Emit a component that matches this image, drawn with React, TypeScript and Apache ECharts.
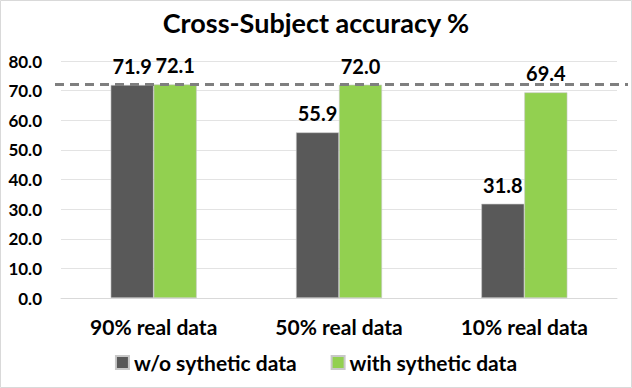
import React, { useEffect, useRef } from "react";
import * as echarts from "echarts";

const categories = ["90% real data", "50% real data", "10% real data"];
const withoutSynthetic = [71.9, 55.9, 31.8];
const withSynthetic = [72.1, 72.0, 69.4];
const referenceLine = 72.1;
const seriesNames = ["w/o sythetic data", "with sythetic data"];
const titleText = "Cross-Subject accuracy %";

const FONT = "Lato, 'Open Sans', sans-serif";

export default function App() {
  const ref = useRef<HTMLDivElement>(null);
  useEffect(() => {
    if (!ref.current) return;
    const chart = echarts.init(ref.current, null, { renderer: "svg" });
    const labelStyle = {
      show: true,
      position: "top" as const,
      distance: 9,
      fontFamily: FONT,
      fontWeight: "bold" as const,
      fontSize: 20,
      color: "#000",
      formatter: (p: any) => Number(p.value).toFixed(1),
    };
    chart.setOption({
      animation: false,
      backgroundColor: "#fff",
      title: {
        text: titleText,
        left: "center",
        top: 4,
        textStyle: { fontFamily: FONT, fontWeight: "bold", fontSize: 27, color: "#000" },
      },
      legend: {
        bottom: 10,
        left: "center",
        itemWidth: 13,
        itemHeight: 13,
        itemGap: 34,
        icon: "rect",
        textStyle: { fontFamily: FONT, fontWeight: "bold", fontSize: 21, color: "#000" },
      },
      grid: { left: 61, right: 15, top: 61, bottom: 90, containLabel: false },
      xAxis: {
        type: "category",
        data: categories,
        axisLine: { show: true, lineStyle: { color: "#d9d9d9" } },
        axisTick: { show: false },
        axisLabel: {
          margin: 18,
          fontFamily: FONT,
          fontWeight: "bold",
          fontSize: 21,
          color: "#000",
        },
      },
      yAxis: {
        type: "value",
        min: 0,
        max: 80,
        interval: 10,
        axisLine: { show: false },
        axisTick: { show: false },
        splitLine: { lineStyle: { color: "#e3e3e3" } },
        axisLabel: {
          margin: 19,
          fontFamily: FONT,
          fontWeight: "bold",
          fontSize: 17,
          color: "#000",
          formatter: (v: number) => v.toFixed(1),
        },
      },
      series: [
        {
          name: seriesNames[0],
          type: "bar",
          data: withoutSynthetic,
          barWidth: 43,
          barGap: "0%",
          itemStyle: { color: "#595959", borderColor: "#c8c8c8", borderWidth: 0.6 },
          label: labelStyle,
        },
        {
          name: seriesNames[1],
          type: "bar",
          data: withSynthetic,
          barWidth: 43,
          barGap: "0%",
          itemStyle: { color: "#92d050", borderColor: "#c8c8c8", borderWidth: 0.6 },
          label: labelStyle,
        },
      ],
    });
    const y = chart.convertToPixel({ yAxisIndex: 0 }, referenceLine) as number;
    chart.setOption({
      graphic: [
        {
          type: "rect",
          shape: { x: 0.5, y: 0.5, width: 631, height: 387 },
          style: { fill: "none", stroke: "#d9d9d9", lineWidth: 1 },
          silent: true,
        },
        {
          type: "line",
          shape: { x1: 55, y1: y, x2: 628, y2: y },
          style: { stroke: "#7f7f7f", lineWidth: 3, lineDash: [9, 6] },
          z: 10,
          silent: true,
        },
      ],
    });
    return () => chart.dispose();
  }, []);
  return (
    <div
      ref={ref}
      style={{ position: "fixed", left: 0, top: 0, width: 632, height: 388 }}
    />
  );
}
